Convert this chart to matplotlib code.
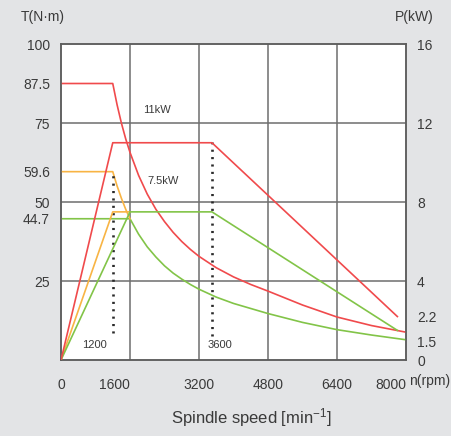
import numpy as np
import matplotlib.pyplot as plt

plt.rcParams['font.family'] = ['Liberation Sans', 'DejaVu Sans']
plt.rcParams['mathtext.fontset'] = 'custom'
plt.rcParams['mathtext.rm'] = 'Liberation Sans'
plt.rcParams['mathtext.it'] = 'Liberation Sans'

RED = '#f04a4c'
ORANGE = '#f8b444'
GREEN = '#82c448'
BG = '#e3e4e6'
GRID = '#6e6e6e'
TXT = '#3a3a3a'

# torque curves (N·m) vs rpm
red_t_rpm = [0, 1200, 1300, 1400, 1500, 1600, 1800, 2000, 2200, 2400, 2600, 2800, 3000, 3200,
             3600, 4000, 4400, 4800, 5600, 6400, 7200, 8000]
red_t = [87.5, 87.5, 80.8, 75.0, 70.0, 65.7, 58.4, 52.5, 47.7, 43.8, 40.4, 37.5, 35.0, 32.8,
         29.2, 26.3, 23.9, 21.8, 17.4, 13.6, 10.9, 8.8]
green_t_rpm = [0, 1600, 1800, 2000, 2200, 2400, 2600, 2800, 3000, 3200, 3600, 4000, 4400, 4800,
               5600, 6400, 7200, 8000]
green_t = [44.7, 44.7, 39.8, 35.8, 32.6, 29.8, 27.5, 25.6, 23.9, 22.4, 19.9, 17.9, 16.3, 14.7,
           11.9, 9.6, 7.9, 6.4]
orange_t_rpm = [0, 1200, 1300, 1400, 1500, 1600]
orange_t = [59.6, 59.6, 55.1, 51.2, 47.7, 44.7]

# power curves (kW) vs rpm
red_p_rpm = [0, 1200, 3500, 7800]
red_p = [0, 11, 11, 2.2]
green_p_rpm = [0, 1600, 3500, 7800]
green_p = [0, 7.5, 7.5, 1.5]
orange_p_rpm = [0, 1200, 1600]
orange_p = [0, 7.5, 7.5]

# base speed markers
base_rpm = [1200, 3500]
base_labels = ['1200', '3600']
base_label_x = [770, 3680]
base_lo = [8.5, 7.6]
base_hi = [59.6, 69.0]

left_ticks = [25, 44.7, 50, 59.6, 75, 87.5, 100]
left_labels = ['25', '44.7', '50', '59.6', '75', '87.5', '100']
right_ticks = [0, 0.95, 2.2, 4, 8, 12, 16]
right_labels = ['0', '1.5', '2.2', '4', '8', '12', '16']
x_ticks = [0, 1600, 3200, 4800, 6400, 8000]
x_align = ['center', 'right', 'center', 'center', 'center', 'right']
grid_x = [1600, 3200, 4800, 6400]
grid_y = [25, 50, 75]

fig = plt.figure(figsize=(4.52, 4.36), dpi=100, facecolor=BG)
ax = fig.add_axes([61/452, 1-360/436, 345/452, 316/436])
ax.set_facecolor('white')
ax.set_xlim(0, 8000)
ax.set_ylim(0, 100)
ax2 = ax.twinx()
ax2.set_ylim(0, 16)

for gx in grid_x:
    ax.axvline(gx, color=GRID, lw=1.1, zorder=1)
for gy in grid_y:
    ax.axhline(gy, color=GRID, lw=1.1, zorder=1)

ax.plot(red_t_rpm, red_t, color=RED, lw=1.2, zorder=3)
ax.plot(green_t_rpm, green_t, color=GREEN, lw=1.2, zorder=3)
ax.plot(orange_t_rpm, orange_t, color=ORANGE, lw=1.2, zorder=3)
ax2.plot(orange_p_rpm, orange_p, color=ORANGE, lw=1.2, zorder=3)
ax2.plot(green_p_rpm, green_p, color=GREEN, lw=1.2, zorder=3)
ax2.plot(red_p_rpm, red_p, color=RED, lw=1.2, zorder=3)

for r, lo, hi, lab, lx in zip(base_rpm, base_lo, base_hi, base_labels, base_label_x):
    ax.plot([r, r], [lo, hi], color='#2a2a2a', lw=1.9, linestyle=(0, (0.8, 2.0)), zorder=4)
    ax.text(lx, 4.8, lab, ha='center', va='center', fontsize=8, color=TXT)

ax.text(2230, 79, '11kW', fontsize=8, color=TXT, ha='center', va='center')
ax.text(2360, 56.5, '7.5kW', fontsize=8, color=TXT, ha='center', va='center')

for a in (ax, ax2):
    for s in a.spines.values():
        s.set_color('#5e5e5e')
        s.set_linewidth(1.1)

ax.set_xticks(x_ticks)
ax.set_xticklabels([str(t) for t in x_ticks])
for lbl, h in zip(ax.get_xticklabels(), x_align):
    lbl.set_ha(h)
ax.set_yticks(left_ticks)
ax.set_yticklabels(left_labels)
ax2.set_yticks(right_ticks)
ax2.set_yticklabels(right_labels)
ax.tick_params(axis='x', length=0, pad=13, labelsize=10, labelcolor=TXT)
ax.tick_params(axis='y', length=0, pad=8, labelsize=10, labelcolor=TXT)
ax2.tick_params(axis='y', length=0, pad=8, labelsize=10, labelcolor=TXT)

fig.text(43/452, 1-17/436, 'T(N·m)', ha='center', va='center', fontsize=10, color=TXT)
fig.text(414/452, 1-17/436, 'P(kW)', ha='center', va='center', fontsize=10, color=TXT)
fig.text(409/452, 1-381/436, 'n(rpm)', ha='left', va='center', fontsize=10, color=TXT)
fig.text(251/452, 1-418/436, 'Spindle speed [min$^{\\mathregular{-1}}$]', ha='center', va='center',
         fontsize=12, color=TXT)

fig.savefig('out.png', dpi=100, facecolor=BG)
